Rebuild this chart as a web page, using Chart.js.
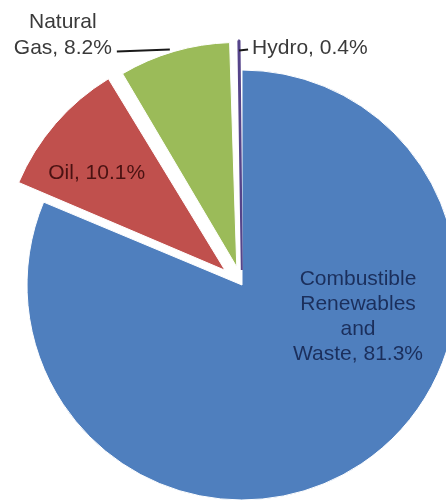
<!DOCTYPE html>
<html>
<head>
<meta charset="utf-8">
<script src="https://cdn.jsdelivr.net/npm/chart.js@4"></script>
<style>
  body { margin: 0; background: #fff; }
  canvas { display: block; }
</style>
</head>
<body>
<canvas id="grafico" width="446" height="502"></canvas>
<script>
// dados do gráfico
const categorias = ["Combustible Renewables and Waste", "Oil", "Natural Gas", "Hydro"];
const linhasRotulo = [["Combustible", "Renewables", "and", "Waste"], ["Oil"], ["Natural", "Gas"], ["Hydro"]];
const valores = [81.3, 10.1, 8.2, 0.4];

const cores = ['#4f7fbe', '#c0504d', '#9bbb59', '#6f5a9e'];
const bordas = ['#ffffff', '#ffffff', '#ffffff', '#55448a'];
const largBordas = [1, 1, 1, 2];
const deslocamentos = [0, 90, 75, 60];
const fonte = '21px "Liberation Sans", Arial, sans-serif';

// posição de cada rótulo (ângulo em graus no canvas, raio relativo)
const posRotulos = [
  { modo: 'dentro', angulo: 15.5, r: 0.56, cor: '#1b2f5c' },
  { modo: 'dentro', angulo: 217, r: 0.707, cor: '#4a1212' },
  { modo: 'esquerda', cor: '#3a3a3a' },
  { modo: 'direita', cor: '#3a3a3a' }
];

function textoRotulo(i) {
  const linhas = linhasRotulo[i].slice();
  linhas[linhas.length - 1] += ", " + valores[i].toFixed(1) + "%";
  return linhas;
}

// mesmo deslocamento que o ArcElement aplica ao desenhar
function centroFatia(arc) {
  const o = (arc.options.offset || 0) / 4;
  const fix = 1 - Math.sin(Math.min(Math.PI, arc.circumference || 0));
  const d = o + o * fix;
  const meio = (arc.startAngle + arc.endAngle) / 2;
  return { x: arc.x + Math.cos(meio) * d, y: arc.y + Math.sin(meio) * d, meio };
}

const pluginRotulos = {
  id: 'rotulos',
  afterDatasetsDraw(chart) {
    const ctx = chart.ctx;
    const arcos = chart.getDatasetMeta(0).data;
    ctx.save();
    ctx.font = fonte;
    ctx.textBaseline = 'middle';
    arcos.forEach((arc, i) => {
      const pos = posRotulos[i];
      const c = centroFatia(arc);
      const linhas = textoRotulo(i);
      const alturaLinha = 25;
      ctx.fillStyle = pos.cor;
      if (pos.modo === 'dentro') {
        const a = pos.angulo * Math.PI / 180;
        const px = c.x + Math.cos(a) * arc.outerRadius * pos.r;
        const py = c.y + Math.sin(a) * arc.outerRadius * pos.r;
        ctx.textAlign = 'center';
        const y0 = py - (linhas.length - 1) * alturaLinha / 2;
        linhas.forEach((l, k) => ctx.fillText(l, px, y0 + k * alturaLinha));
      } else if (pos.modo === 'esquerda') {
        // linha de chamada para a esquerda
        const px = c.x + Math.cos(c.meio) * (arc.outerRadius + 1) - 4;
        const py = c.y + Math.sin(c.meio) * (arc.outerRadius + 1);
        const fim = px - 53;
        ctx.strokeStyle = '#1a1a1a';
        ctx.lineWidth = 2;
        ctx.beginPath();
        ctx.moveTo(px, py - 1);
        ctx.lineTo(fim, py + 1);
        ctx.stroke();
        const larg = Math.max(...linhas.map(l => ctx.measureText(l).width));
        const cx = fim - 5 - larg / 2;
        ctx.textAlign = 'center';
        const yUlt = py - 2;
        linhas.forEach((l, k) => ctx.fillText(l, cx, yUlt - (linhas.length - 1 - k) * 26));
      } else {
        // linha de chamada curta para a direita
        const px = c.x + Math.cos(c.meio) * (arc.outerRadius - 10);
        const py = c.y + Math.sin(c.meio) * (arc.outerRadius - 10);
        ctx.strokeStyle = '#1a1a1a';
        ctx.lineWidth = 2;
        ctx.beginPath();
        ctx.moveTo(px, py);
        ctx.lineTo(px + 9, py - 1);
        ctx.stroke();
        ctx.textAlign = 'left';
        ctx.fillText(linhas[0], px + 13, py - 2);
      }
    });
    ctx.restore();
  }
};

const ctx = document.getElementById('grafico').getContext('2d');
new Chart(ctx, {
  type: 'pie',
  data: {
    labels: categorias,
    datasets: [{
      data: valores,
      backgroundColor: cores,
      borderColor: bordas,
      borderWidth: largBordas,
      offset: deslocamentos,
      radius: 215
    }]
  },
  options: {
    responsive: false,
    animation: false,
    layout: { padding: { left: 38, right: 0, top: 68, bottom: 0 } },
    plugins: {
      legend: { display: false },
      tooltip: { enabled: false }
    }
  },
  plugins: [pluginRotulos]
});
</script>
</body>
</html>
